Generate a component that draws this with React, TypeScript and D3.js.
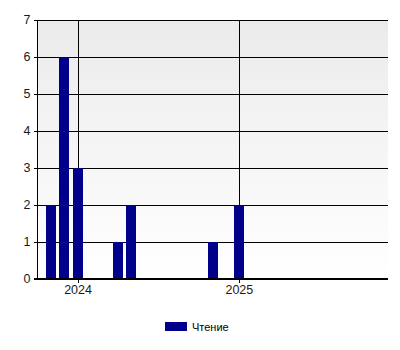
import React from "react";
import * as d3 from "d3";

const months = ["2023-11-01", "2023-12-01", "2024-01-01", "2024-04-01", "2024-05-01", "2024-11-01", "2025-01-01"];
const values = [2, 6, 3, 1, 2, 1, 2];
const yTicks = [0, 1, 2, 3, 4, 5, 6, 7];
const seriesName = "Чтение";

const W = 400, H = 350;
const left = 37.5, right = 387.5, top = 19.5, bottom = 278.5;

export default function App() {
  const parse = d3.utcParse("%Y-%m-%d");
  const dates = months.map((m) => parse(m) as Date);
  const x = d3.scaleUtc().domain([parse("2023-10-01") as Date, parse("2025-12-03") as Date]).range([left, right]);
  const y = d3.scaleLinear().domain([0, 7]).range([bottom, top]);
  const xTicks = d3.utcYear.range(parse("2024-01-01") as Date, parse("2026-01-01") as Date);
  const bw = 10;
  const font = "'Liberation Sans', Arial, sans-serif";
  return (
    <svg width={W} height={H} style={{ position: "absolute", left: 0, top: 0, display: "block", background: "#fff" }} shapeRendering="crispEdges">
      <defs>
        <linearGradient id="bg" x1="0" y1="0" x2="0" y2="1">
          <stop offset="0%" stopColor="#ebebeb" />
          <stop offset="100%" stopColor="#ffffff" />
        </linearGradient>
      </defs>
      <rect x={left} y={top} width={right - left} height={bottom - top} fill="url(#bg)" />
      {yTicks.map((t) => (
        <g key={t}>
          <line x1={left - 4} x2={right} y1={Math.round(y(t)) + 0.5} y2={Math.round(y(t)) + 0.5} stroke="#000" strokeWidth={1} />
          <text x={30.5} y={y(t) + 4.5} textAnchor="end" fontSize={12.5} fontFamily={font} fill="#1a1a1a" shapeRendering="auto">{t}</text>
        </g>
      ))}
      {xTicks.map((d, i) => (
        <g key={i}>
          <line x1={Math.round(x(d)) + 0.5} x2={Math.round(x(d)) + 0.5} y1={top} y2={bottom + 4} stroke="#000" strokeWidth={1} />
          <text x={x(d)} y={294} textAnchor="middle" fontSize={12.5} fontFamily={font} fill="#1a1a1a">{d3.utcFormat("%Y")(d)}</text>
        </g>
      ))}
      {dates.map((d, i) => {
        const x0 = Math.round(x(d) - bw / 2);
        const y0 = Math.round(y(values[i]));
        return <rect key={i} x={x0} y={y0} width={bw} height={Math.round(y(0)) - y0} fill="#00008b" />;
      })}
      <line x1={left} x2={left} y1={top} y2={bottom} stroke="#000" />
      <line x1={left - 4} x2={right} y1={bottom} y2={bottom} stroke="#000" />
      <rect x={165} y={322} width={22} height={9} fill="#00008b" />
      <text x={192} y={330.5} fontSize={11} fontFamily={font} fill="#000">{seriesName}</text>
    </svg>
  );
}
